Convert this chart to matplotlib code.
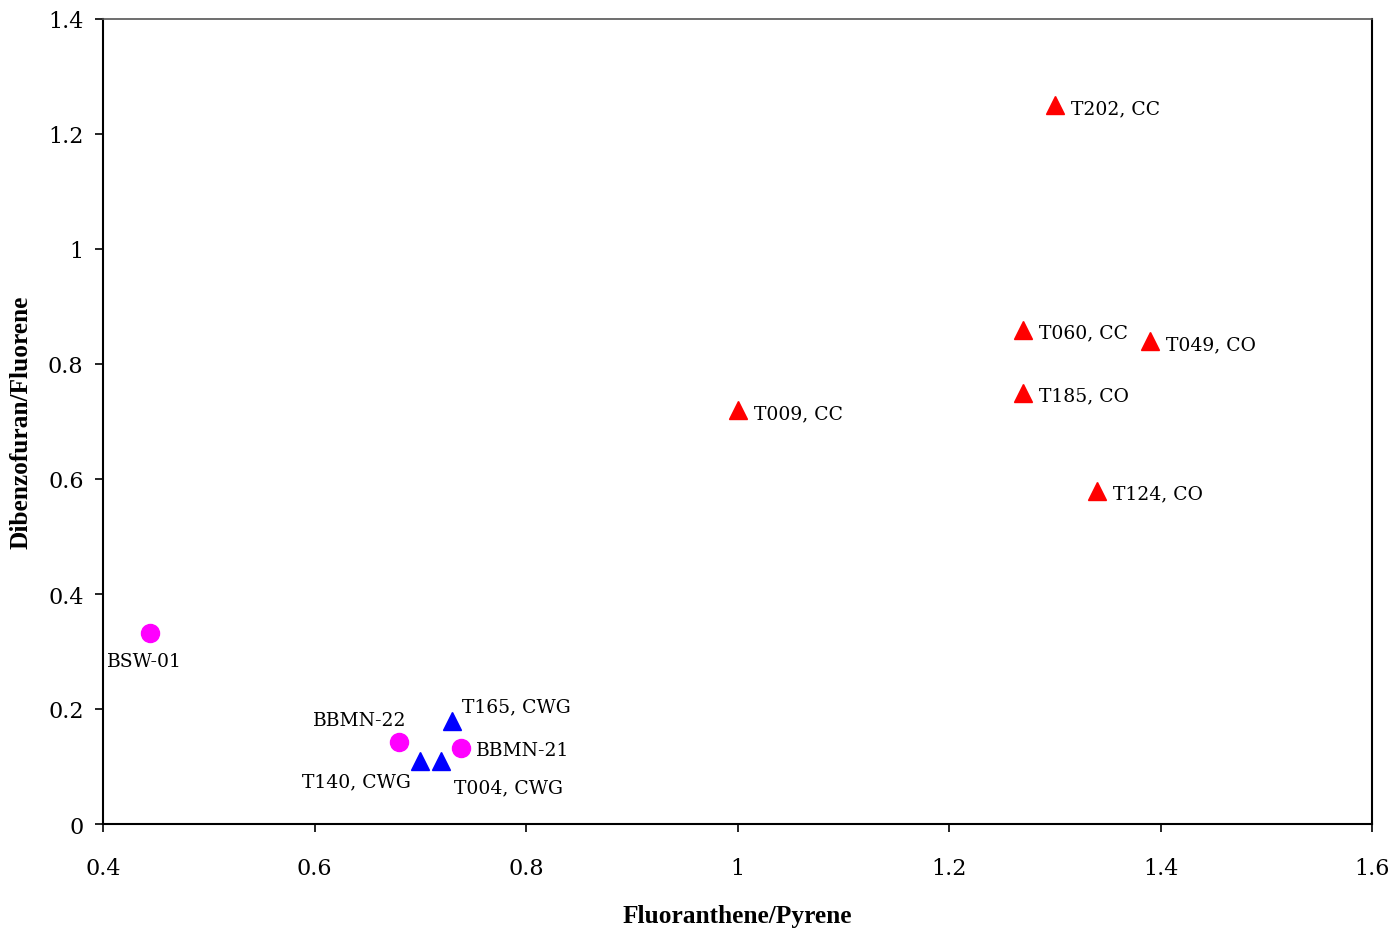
import matplotlib
matplotlib.use("Agg")
import matplotlib.pyplot as plt

# sample names and ratios
circle_names = ["BSW-01", "BBMN-22", "BBMN-21"]
circle_x = [0.444, 0.68, 0.739]
circle_y = [0.333, 0.143, 0.132]

blue_names = ["T165, CWG", "T140, CWG", "T004, CWG"]
blue_x = [0.73, 0.70, 0.72]
blue_y = [0.18, 0.11, 0.11]

red_names = ["T202, CC", "T060, CC", "T049, CO", "T185, CO", "T009, CC", "T124, CO"]
red_x = [1.30, 1.27, 1.39, 1.27, 1.00, 1.34]
red_y = [1.25, 0.86, 0.84, 0.75, 0.72, 0.58]

x_ticks = [0.4, 0.6, 0.8, 1, 1.2, 1.4, 1.6]
y_ticks = [0, 0.2, 0.4, 0.6, 0.8, 1, 1.2, 1.4]

# label offsets in pixels (dx, dy down), alignment
label_pos = {
    "BSW-01": (-5, 28, "center"),
    "BBMN-22": (-39, -22, "center"),
    "BBMN-21": (14, 2, "left"),
    "T165, CWG": (10, -14, "left"),
    "T140, CWG": (-9, 21, "right"),
    "T004, CWG": (13, 27, "left"),
}

fig = plt.figure(figsize=(13.93, 9.29), dpi=100)
ax = fig.add_axes([103 / 1393, 1 - 825 / 929, 1269 / 1393, 805 / 929])

ax.plot(circle_x, circle_y, "o", color="#FF00FF", ms=13, mec="#FF00FF", zorder=3)
ax.plot(blue_x, blue_y, "^", color="#0000FF", ms=13, mec="#0000FF", zorder=3)
ax.plot(red_x, red_y, "^", color="#FF0000", ms=13, mec="#FF0000", zorder=3)

fs = 13.5
fam = "DejaVu Serif"
px = 72 / 100

for name, x, y in zip(circle_names + blue_names, circle_x + blue_x, circle_y + blue_y):
    dx, dy, ha = label_pos[name]
    ax.annotate(name, (x, y), xytext=(dx * px, -dy * px), textcoords="offset points",
                ha=ha, va="center", fontsize=fs, family=fam)

for name, x, y in zip(red_names, red_x, red_y):
    ax.annotate(name, (x, y), xytext=(16 * px, -3 * px), textcoords="offset points",
                ha="left", va="center", fontsize=fs, family=fam)

ax.set_xlim(0.4, 1.6)
ax.set_ylim(0, 1.4)
ax.set_xticks(x_ticks)
ax.set_yticks(y_ticks)
ax.set_xticklabels([f"{t:g}" for t in x_ticks], family=fam, fontsize=16)
ax.set_yticklabels([f"{t:g}" for t in y_ticks], family=fam, fontsize=16)
ax.tick_params(direction="out", length=6, width=1.2)
ax.tick_params(axis="x", pad=18)
ax.tick_params(axis="y", pad=8)

for s in ["left", "bottom", "right"]:
    ax.spines[s].set_linewidth(1.5)
ax.spines["top"].set_linewidth(1.2)
ax.spines["top"].set_color("#555555")

ax.set_xlabel("Fluoranthene/Pyrene", family="Liberation Serif", fontweight="bold",
              fontsize=18.3, labelpad=18)
ax.set_ylabel("Dibenzofuran/Fluorene", family="Liberation Serif", fontweight="bold",
              fontsize=18.3, labelpad=11)

fig.savefig("out.png", dpi=100)
